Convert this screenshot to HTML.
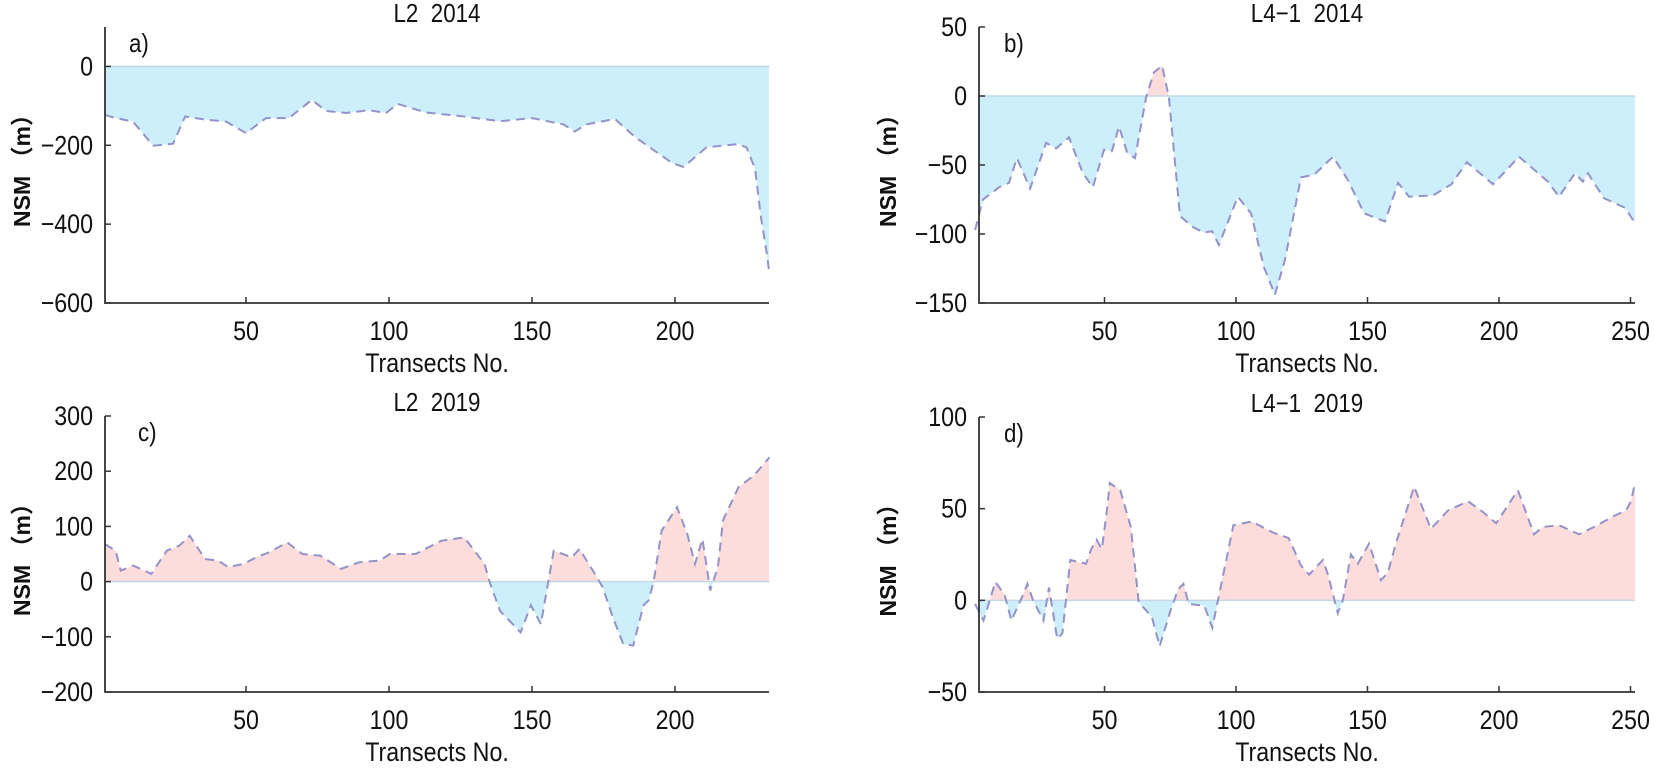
<!DOCTYPE html>
<html><head><meta charset="utf-8"><style>
html,body{margin:0;padding:0;background:#fff;}
svg text{font-family:"Liberation Sans","Noto Sans CJK SC",sans-serif;fill:#111;}
</style></head><body>
<svg id="s" width="1654" height="764" xmlns="http://www.w3.org/2000/svg"></svg>
<script>
const P=[
{L:105,R:769,T:27,B:303,ymax:100,ymin:-600,x0:103,k:2.86,ticksY:[0,-200,-400,-600],ticksX:[50,100,150,200],title:"L2  2014",lab:"a)",lx:129,ylx:22,
d:[[0.7,-123],[4,-130],[10.5,-140],[14,-170],[17.5,-201],[24.5,-196],[28.7,-127],[36,-135],[43,-140],[50,-169],[57,-131],[65,-131],[73,-85],[78,-113],[85,-118],[93,-111],[99,-118],[103,-95],[113,-117],[124,-125],[139,-139],[150,-131],[161,-147],[165,-165],[169,-147],[179,-133],[186,-179],[199,-245],[203,-255],[211,-205],[222,-197],[225,-205],[228,-260],[230,-380],[232,-470],[233,-525]]},
{L:979,R:1635,T:27,B:303,ymax:50,ymin:-150,x0:973,k:2.63,ticksY:[50,0,-50,-100,-150],ticksX:[50,100,150,200,250],title:"L4\u22121  2014",lab:"b)",lx:1004,ylx:888,
d:[[0.8,-97],[3.8,-75],[10,-66],[13.7,-63],[16.7,-45],[21.7,-67],[27.8,-34],[31.6,-38],[36.5,-30],[41.8,-56],[45.6,-66],[49.8,-39],[52.8,-40],[55.5,-22],[58.6,-41],[61.6,-45],[65.8,-1],[68.8,17],[71.9,22],[74.5,-1],[78.7,-87],[83.7,-95],[87.8,-99],[90.9,-98],[93.5,-108],[100.7,-73],[105.7,-85],[110.6,-124],[114.8,-144],[118.6,-119],[124.7,-59],[129.7,-57],[136.9,-44],[142.6,-61],[148.7,-85],[156.7,-91],[161.6,-63],[165.8,-73],[174.9,-72],[181.9,-64],[187.8,-48],[197.7,-64],[207.6,-44],[218.6,-62],[222.8,-73],[228.9,-56],[231.9,-62],[233.8,-56],[239.9,-74],[247.9,-81],[251.7,-92]]},
{L:105,R:769,T:416,B:692,ymax:300,ymin:-200,x0:103,k:2.86,ticksY:[300,200,100,0,-100,-200],ticksX:[50,100,150,200],title:"L2  2019",lab:"c)",lx:138,ylx:22,
d:[[0.7,68],[4.4,56],[6.2,20],[10.6,29],[16.9,14],[22.3,56],[26.7,65],[30.3,83],[35.7,41],[40.2,38],[43.8,26],[49.1,32],[53.6,44],[58.1,53],[64.4,71],[69.7,50],[76,47],[83.2,23],[89.5,35],[96.7,38],[100.3,50],[109.3,50],[118.2,74],[126.3,80],[133.4,32],[135.2,-1],[138.8,-53],[146,-92],[149.6,-43],[153.1,-77],[157.6,56],[163.9,44],[166.6,59],[172,14],[174.7,-10],[178.3,-65],[181.9,-113],[185.4,-116],[189,-43],[190.8,-34],[192.6,2],[195.3,92],[200.7,135],[204.3,86],[207,32],[209.6,77],[212.3,-16],[215,26],[216.8,111],[222.2,171],[227.6,192],[233,225]]},
{L:979,R:1635,T:417,B:692,ymax:100,ymin:-50,x0:973,k:2.63,ticksY:[100,50,0,-50],ticksX:[50,100,150,200,250],title:"L4\u22121  2019",lab:"d)",lx:1004,ylx:888,
d:[[0.8,-2],[4,-11],[8.5,10],[12,3],[14.6,-11],[18.7,2],[20.7,9],[22.8,0],[26.8,-11],[28.9,7],[32,-21],[34,-18],[37,22],[43,20],[45,28],[47,33],[49,28],[51,50],[52,64],[56,60],[60,40],[63,-1],[68,-9],[71,-25],[75,-6],[78,6],[80,9],[82,-2],[88,-3],[91,-15],[96,20],[99,41],[106,43],[114,37],[120,34],[124.7,19],[127.8,14],[133,22],[135,14],[138.7,-7],[140.6,0],[143.7,25],[146.3,20],[150.6,31],[155.1,11],[157.7,15],[160.8,31],[167.7,62],[174.1,39],[180.6,49],[188.2,54],[193.2,49],[198.9,42],[207.2,60],[213.3,36],[216.7,40],[222.8,41],[230.4,36],[236.1,40],[243.7,46],[248.3,49],[250.2,54],[251.7,64]]}
];
function T(x,y,s,size,anchor,extra){return `<text transform="translate(${x},${y}) scale(0.86,1)" font-size="${size}" text-anchor="${anchor}" ${extra||''} xml:space="preserve">${s}</text>`;}
let h='';
P.forEach((p,i)=>{
 const X=t=>p.x0+p.k*t, Y=v=>p.B-(v-p.ymin)*(p.B-p.T)/(p.ymax-p.ymin);
 const z=Y(0);
 const pts=p.d.map(q=>X(q[0]).toFixed(1)+','+Y(q[1]).toFixed(1));
 const poly=pts.join(' ')+' '+X(p.d[p.d.length-1][0]).toFixed(1)+','+z+' '+X(p.d[0][0]).toFixed(1)+','+z;
 h+=`<clipPath id="u${i}"><rect x="${p.L}" y="${p.T-20}" width="${p.R-p.L}" height="${z-p.T+20}"/></clipPath>`;
 h+=`<clipPath id="l${i}"><rect x="${p.L}" y="${z}" width="${p.R-p.L}" height="${p.B-z}"/></clipPath>`;
 h+=`<polygon points="${poly}" fill="#fddcdc" clip-path="url(#u${i})"/>`;
 h+=`<polygon points="${poly}" fill="#cdeefb" clip-path="url(#l${i})"/>`;
 h+=`<line x1="${p.L}" x2="${X(p.d[p.d.length-1][0])}" y1="${z}" y2="${z}" stroke="#c4d8e4" stroke-width="1.5"/>`;
 h+=`<polyline points="${pts.join(' ')}" fill="none" stroke="#9393c9" stroke-width="2" stroke-dasharray="9,6"/>`;
 h+=`<path d="M${p.L},${p.T}V${p.B}H${p.R}" fill="none" stroke="#333" stroke-width="1.8"/>`;
 p.ticksY.forEach(v=>{const y=Y(v);h+=`<line x1="${p.L}" x2="${p.L+6}" y1="${y}" y2="${y}" stroke="#333" stroke-width="1.5"/>`+T(p.L-12,y+9,v<0?'\u2212'+(-v):v,27,'end');});
 p.ticksX.forEach(t=>{const x=X(t);h+=`<line x1="${x}" x2="${x}" y1="${p.B}" y2="${p.B-6}" stroke="#333" stroke-width="1.5"/>`+T(x,p.B+37,t,27,'middle');});
 const cx=(p.L+p.R)/2;
 h+=T(cx,p.B+69,'Transects No.',27,'middle');
 h+=T(cx,p.T-5,p.title,26,'middle');
 h+=T(p.lx,p.T+25,p.lab,26,'start');
 const cy=(p.T+p.B)/2;
 h+=`<text transform="translate(${p.ylx+8},${cy}) rotate(-90)" font-size="23" font-weight="bold" text-anchor="middle" xml:space="preserve">NSM （m）</text>`;
});
document.getElementById('s').innerHTML=h;
</script>
</body></html>
